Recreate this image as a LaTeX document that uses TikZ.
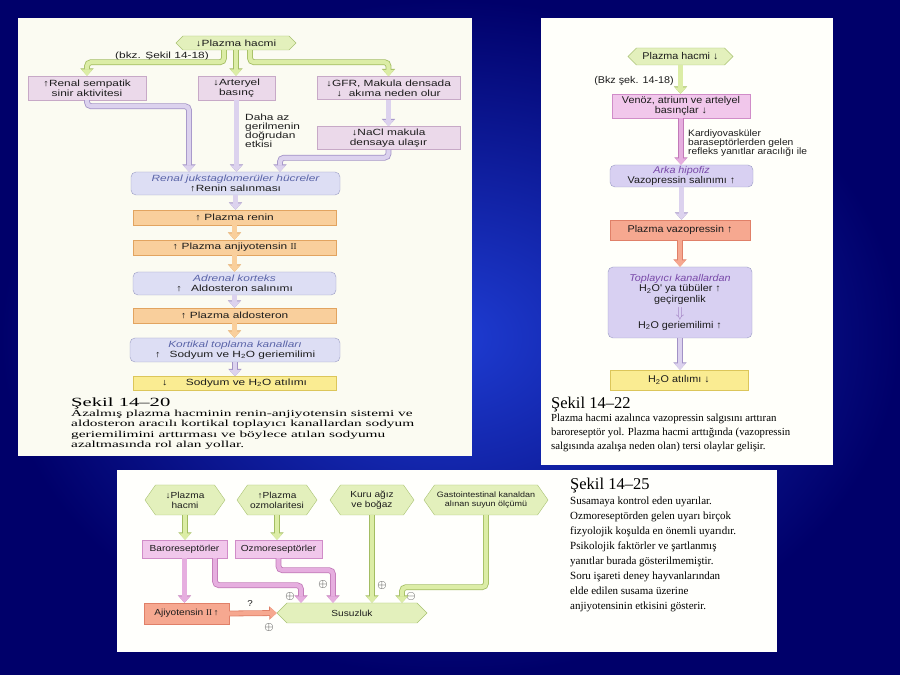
\documentclass[tikz,border=0pt]{standalone}
\usepackage{fontspec}
\setmainfont{Liberation Serif}
\newfontfamily\lsf{Liberation Sans}[FakeStretch=1.32]
\newfontfamily\rsf{Liberation Sans}[FakeStretch=1.1]
\newfontfamily\bsf{Liberation Sans}[FakeStretch=1.15]
\newfontfamily\lrm{Liberation Serif}[FakeStretch=1.65]
\usetikzlibrary{shapes.symbols, arrows.meta, positioning}

\definecolor{bgin}{HTML}{1E3CD2}
\definecolor{bgout}{HTML}{00006A}
\definecolor{panel}{HTML}{FBFBF2}
\definecolor{hexfill}{HTML}{E3F0BC}
\definecolor{hexedge}{HTML}{A9C273}
\definecolor{gfill}{HTML}{DCEDA6}
\definecolor{gedge}{HTML}{A3BD62}
\definecolor{pfill}{HTML}{EBD9EA}
\definecolor{pedge}{HTML}{C7A9C7}
\definecolor{mfill}{HTML}{F1C7EB}
\definecolor{medge}{HTML}{D08CC8}
\definecolor{mafill}{HTML}{E6AEDF}
\definecolor{maedge}{HTML}{C27AB8}
\definecolor{lfill}{HTML}{DDDEF4}
\definecolor{ledge}{HTML}{9A9CC4}
\definecolor{vfill}{HTML}{D8D0F2}
\definecolor{afill}{HTML}{DCD2EE}
\definecolor{aedge}{HTML}{A292C6}
\definecolor{ofill}{HTML}{F9CF9C}
\definecolor{oedge}{HTML}{E2A460}
\definecolor{sfill}{HTML}{F6A890}
\definecolor{sedge}{HTML}{E08068}
\definecolor{yfill}{HTML}{FAEC92}
\definecolor{yedge}{HTML}{DCC65A}
\definecolor{txt}{HTML}{1C1C1C}
\definecolor{hdr}{HTML}{5A64A8}
\definecolor{hdrv}{HTML}{7848A8}

\begin{document}
\begin{tikzpicture}[x=1pt, y=1pt,
    hex/.style={signal, signal to=west and east, signal pointer angle=90, draw=hexedge, fill=hexfill, inner sep=0pt, align=center, text=txt},
    box/.style={draw, inner sep=0pt, align=center, text=txt},
    rbox/.style={box, rounded corners=5pt},
    lt/.style={font=\lsf\fontsize{9}{10}\selectfont},
    rt/.style={font=\rsf\fontsize{9.8}{10.2}\selectfont},
    bt/.style={font=\bsf\fontsize{8.8}{9.8}\selectfont},
    flow/.style={line width=4.2pt, rounded corners=4pt, -{Triangle[length=6.5pt,width=11pt]}},
    gflow/.style={flow, draw=gfill, preaction={draw=gedge, line width=5.8pt, -{Triangle[length=7.5pt,width=13pt]}}},
    lflow/.style={flow, draw=afill, preaction={draw=aedge, line width=5.8pt, -{Triangle[length=7.5pt,width=13pt]}}},
    mflow/.style={flow, draw=mafill, preaction={draw=maedge, line width=5.8pt, -{Triangle[length=7.5pt,width=13pt]}}},
    oflow/.style={flow, draw=ofill, preaction={draw=oedge, line width=5.8pt, -{Triangle[length=7.5pt,width=13pt]}}},
    sflow/.style={flow, draw=sfill, preaction={draw=sedge, line width=5.8pt, -{Triangle[length=7.5pt,width=13pt]}}},
    sign/.style={inner sep=0pt, text=txt, font=\fontsize{11.5}{11.5}\selectfont}
  ]
    \useasboundingbox (0,0) rectangle (900,675);
    \shade[inner color=bgin, outer color=bgout] (0,0) rectangle (900,675);

    % panels
    \fill[panel] (18,219) rectangle (472,657);
    \fill[white!98!yellow] (541,210) rectangle (833,657);
    \fill[white!99!yellow] (117,23) rectangle (777,205);

    % ---- Sekil 14-20 ----
    \node[hex, lt, minimum width=120, minimum height=14] (lhex) at (236,632) {↓Plazma hacmi};
    \node[lt, text=txt] (lbkz) at (162,619) {(bkz. Şekil 14-18)};
    \node[box, lt, draw=pedge, fill=pfill, minimum width=118, minimum height=24] (lsym) at (87,587) {↑Renal sempatik\\sinir aktivitesi};
    \node[box, lt, draw=pedge, fill=pfill, minimum width=77, minimum height=24] (lart) at (236.5,587) {↓Arteryel\\basınç};
    \node[box, lt, draw=pedge, fill=pfill, minimum width=143, minimum height=23] (lgfr) at (388.5,587) {↓GFR, Makula densada\\↓\ \ akıma neden olur};
    \node[box, lt, draw=pedge, fill=pfill, minimum width=143, minimum height=23] (lnacl) at (388.5,537) {↓NaCl makula\\densaya ulaşır};
    \node[align=left, anchor=north west, inner sep=0pt, text=txt, font=\lsf\fontsize{9}{8.4}\selectfont] (lnote) at (245,561) {Daha az\\gerilmenin\\doğrudan\\etkisi};
    \node[rbox, lt, draw=ledge, fill=lfill, minimum width=209, minimum height=23] (ljg) at (235.5,491.5) {{\itshape\color{hdr}Renal jukstaglomerüler hücreler}\\↑Renin salınması};
    \node[box, lt, draw=oedge, fill=ofill, minimum width=203, minimum height=15] (lren) at (234.5,457.5) {↑ Plazma renin};
    \node[box, lt, draw=oedge, fill=ofill, minimum width=203, minimum height=15] (lang) at (234.5,427.5) {↑ Plazma anjiyotensin {\rmfamily II}};
    \node[rbox, lt, draw=ledge, fill=lfill, minimum width=203, minimum height=23] (ladr) at (234.5,391.5) {{\itshape\color{hdr}Adrenal korteks}\\↑\quad Aldosteron salınımı};
    \node[box, lt, draw=oedge, fill=ofill, minimum width=203, minimum height=15] (lald) at (234.5,359.5) {↑ Plazma aldosteron};
    \node[rbox, lt, draw=ledge, fill=lfill, minimum width=210, minimum height=24] (lkor) at (235,325) {{\itshape\color{hdr}Kortikal toplama kanalları}\\↑\quad Sodyum ve H\textsubscript{2}O geriemilimi};
    \node[box, lt, draw=yedge, fill=yfill, minimum width=203, minimum height=14] (lna) at (234.5,291.5) {↓\qquad Sodyum ve H\textsubscript{2}O atılımı};
    \node[anchor=west, inner sep=0pt, font=\lrm\fontsize{12.5}{14}\selectfont] (lcap) at (71,272) {Şekil 14–20};
    \node[anchor=north west, align=left, inner sep=0pt, font=\lrm\fontsize{9.3}{10.3}\selectfont] (ltext) at (71,265) {Azalmış plazma hacminin renin-anjiyotensin sistemi ve\\aldosteron aracılı kortikal toplayıcı kanallardan sodyum\\geriemilimini arttırması ve böylece atılan sodyumu\\azaltmasında rol alan yollar.};

    \draw[gflow] ([xshift=-12pt]lhex.south) -- ++(0,-12) -| (lsym.north);
    \draw[gflow] (lhex.south) -- (lhex.south |- lart.north);
    \draw[gflow] ([xshift=14pt]lhex.south) -- ++(0,-12) -| (lgfr.north);
    \draw[lflow] (lsym.south) -- ++(0,-6) -| ([xshift=-46.5pt]ljg.north);
    \draw[lflow] (lart.south) -- (lart.south |- ljg.north);
    \draw[lflow] (lgfr.south) -- (lnacl.north);
    \draw[lflow] (lnacl.south) -- ++(0,-8) -| ([xshift=44.5pt]ljg.north);
    \draw[lflow] (ljg.south) -- (ljg.south |- lren.north);
    \draw[oflow] (lren.south) -- (lang.north);
    \draw[oflow] (lang.south) -- (lang.south |- ladr.north);
    \draw[lflow] (ladr.south) -- (lald.north);
    \draw[oflow] (lald.south) -- (lald.south |- lkor.north);
    \draw[lflow] (lkor.south) -- (lkor.south |- lna.north);

    % ---- Sekil 14-22 ----
    \node[hex, rt, minimum width=105, minimum height=17] (rhex) at (680.5,618.5) {Plazma hacmi ↓};
    \node[rt, text=txt] (rbkz) at (634,594) {(Bkz şek. 14-18)};
    \node[box, rt, draw=medge, fill=mfill, minimum width=138, minimum height=24] (rven) at (681,569) {Venöz, atrium ve artelyel\\basınçlar ↓};
    \node[align=left, anchor=north west, inner sep=0pt, text=txt, font=\rsf\fontsize{9.3}{8.8}\selectfont] (rnote) at (688,545) {Kardiyovasküler\\baraseptörlerden gelen\\refleks yanıtlar aracılığı ile};
    \node[rbox, rt, draw=ledge, fill=vfill, minimum width=143, minimum height=22] (rhip) at (681.5,499) {{\itshape\color{hdrv}Arka hipofiz}\\Vazopressin salınımı ↑};
    \node[box, rt, draw=sedge, fill=sfill, minimum width=140, minimum height=20] (rvaz) at (680,445) {Plazma vazopressin ↑};
    \node[rbox, rt, draw=ledge, fill=vfill, minimum width=144, minimum height=71] (rtop) at (680,372.5) {{\itshape\color{hdrv}Toplayıcı kanallardan}\\H\textsubscript{2}O' ya tübüler ↑\\geçirgenlik\\[2pt]{\color{hdrv!70}\fontsize{15}{12}\selectfont$\Downarrow$}\\[1pt]H\textsubscript{2}O geriemilimi ↑};
    \node[box, rt, draw=yedge, fill=yfill, minimum width=138, minimum height=20] (rh2o) at (679,295) {H\textsubscript{2}O atılımı ↓};
    \node[anchor=west, inner sep=0pt, font=\fontsize{16.5}{18}\selectfont] (rcap) at (551,270) {Şekil 14–22};
    \node[anchor=north west, align=left, inner sep=0pt, font=\fontsize{10.8}{14}\selectfont] (rtext) at (551,261) {Plazma hacmi azalınca vazopressin salgısını arttıran\\baroreseptör yol. Plazma hacmi arttığında (vazopressin\\salgısında azalışa neden olan) tersi olaylar gelişir.};

    \draw[gflow] (rhex.south) -- (rhex.south |- rven.north);
    \draw[mflow] (rven.south) -- (rven.south |- rhip.north);
    \draw[lflow] (rhip.south) -- (rhip.south |- rvaz.north);
    \draw[sflow] (rvaz.south) -- (rvaz.south |- rtop.north);
    \draw[lflow] (rtop.south) -- (rtop.south |- rh2o.north);

    % ---- Sekil 14-25 ----
    \node[hex, bt, signal pointer angle=110, minimum width=80, minimum height=30] (bvol) at (185,175) {↓Plazma\\hacmi};
    \node[hex, bt, signal pointer angle=110, minimum width=80, minimum height=30] (bosm) at (277,175) {↑Plazma\\ozmolaritesi};
    \node[hex, bt, signal pointer angle=110, minimum width=84, minimum height=30] (bdry) at (372,175) {Kuru ağız\\ve boğaz};
    \node[hex, bt, signal pointer angle=110, minimum width=124, minimum height=30, font=\bsf\fontsize{7.8}{9}\selectfont] (bgut) at (486,175) {Gastointestinal kanaldan\\alınan suyun ölçümü};
    \node[box, bt, draw=medge, fill=mfill, minimum width=85, minimum height=18] (bbar) at (184.5,126) {Baroreseptörler};
    \node[box, bt, draw=medge, fill=mfill, minimum width=87, minimum height=18] (bozm) at (278.5,126) {Ozmoreseptörler};
    \node[box, bt, draw=sedge, fill=sfill, minimum width=85, minimum height=21] (bang) at (186.5,61.5) {Ajiyotensin {\rmfamily II}\,↑};
    \node[hex, bt, minimum width=150, minimum height=20] (bsus) at (352,62) {Susuzluk};
    \node[sign] (s1) at (290,78) {$\oplus$};
    \node[sign] (s2) at (323,90) {$\oplus$};
    \node[sign] (s3) at (382,89) {$\oplus$};
    \node[sign] (s4) at (411,78) {$\ominus$};
    \node[sign, font=\bsf\fontsize{8.5}{8.5}\selectfont] (sq) at (250,71) {?};
    \node[sign] (s5) at (269,48) {$\oplus$};
    \node[anchor=west, inner sep=0pt, font=\fontsize{16.5}{18}\selectfont] (bcap) at (570,189) {Şekil 14–25};
    \node[anchor=north west, align=left, inner sep=0pt, font=\fontsize{11}{15}\selectfont] (btext) at (570,178) {Susamaya kontrol eden uyarılar.\\Ozmoreseptörden gelen uyarı birçok\\fizyolojik koşulda en önemli uyarıdır.\\Psikolojik faktörler ve şartlanmış\\yanıtlar burada gösterilmemiştir.\\Soru işareti deney hayvanlarından\\elde edilen susama üzerine\\anjiyotensinin etkisini gösterir.};

    \draw[gflow] (bvol.south) -- (bvol.south |- bbar.north);
    \draw[gflow] (bosm.south) -- (bosm.south |- bozm.north);
    \draw[gflow] (bdry.south) -- (bdry.south |- bsus.north);
    \draw[gflow] (bgut.south) -- ++(0,-72) -| ([xshift=50pt]bsus.north);
    \draw[mflow] (bbar.south) -- (bbar.south |- bang.north);
    \draw[mflow] ([xshift=30.5pt]bbar.south) -- ++(0,-27) -| ([xshift=-51pt]bsus.north);
    \draw[mflow] (bozm.south) -- ++(0,-12) -| ([xshift=-19pt]bsus.north);
    \draw[sflow] (bang.east) -- (bsus.west);
\end{tikzpicture}
\end{document}
